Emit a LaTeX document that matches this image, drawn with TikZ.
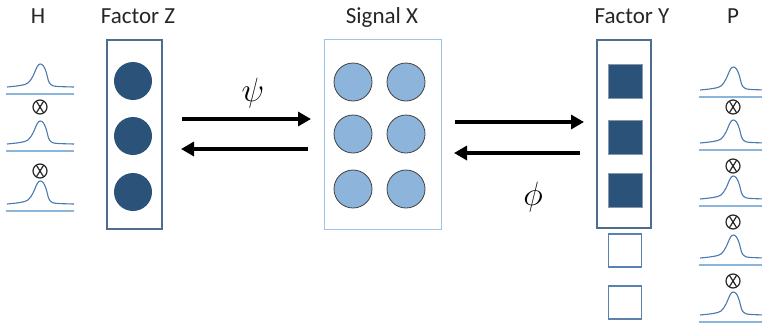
\documentclass[tikz,border=0pt]{standalone}
\usepackage{fontspec}
\setmainfont{Carlito}
\usetikzlibrary{arrows.meta}
\definecolor{dblue}{HTML}{2B5278}
\definecolor{boxedge}{HTML}{4F6D8F}
\definecolor{lblue}{HTML}{8DB5DB}
\definecolor{xedge}{HTML}{9DC3E6}
\definecolor{curvec}{HTML}{4A78B0}
\definecolor{basec}{HTML}{8AB6DE}
\definecolor{emptyedge}{HTML}{5A82AE}
\definecolor{txt}{HTML}{262626}
\tikzset{
  title/.style={anchor=base, font=\fontsize{23}{26}\selectfont, text=txt, inner sep=0},
  frame/.style={draw=boxedge, line width=1.3pt, inner sep=0},
  dcirc/.style={circle, fill=dblue, minimum size=38pt, inner sep=0},
  lcirc/.style={circle, fill=lblue, draw=black!75, line width=0.8pt, minimum size=38pt, inner sep=0},
  dsq/.style={fill=dblue, draw=boxedge!70, line width=0.6pt, minimum size=34pt, inner sep=0},
  esq/.style={draw=emptyedge, line width=1.2pt, minimum size=33pt, inner sep=0},
  bigarrow/.style={line width=4.3pt, -{Triangle[length=13pt,width=14pt]}},
  greek/.style={font=\fontsize{24.88}{28}\selectfont, scale=1.35, inner sep=0},
  otimes/.style={circle, draw=black!85, line width=1.2pt, minimum size=14pt, inner sep=0,
    path picture={\draw[black!85, line width=1.2pt]
      ([xshift=2.6pt]path picture bounding box.north west) -- ([xshift=-2.6pt]path picture bounding box.south east)
      ([xshift=-2.6pt]path picture bounding box.north east) -- ([xshift=2.6pt]path picture bounding box.south west);}},
  bump/.pic={
    \draw[curvec, line width=1.1pt] plot[smooth, tension=0.6] coordinates
      {(-33,0) (-20,-1.5) (-12,-4) (-7,-11) (-3,-20) (0,-23) (3.5,-21) (6.5,-14) (8.5,-6) (11.5,-2) (17,-0.6) (34,0)};
    \draw[basec, line width=1.3pt] (-34,7) -- (34,7);
  }
}
\begin{document}
\begin{tikzpicture}[x=1pt,y=-1pt]
\useasboundingbox (0,0) rectangle (762,327);

% titles
\node[title] (tH) at (38,23) {H};
\node[title] (tZ) at (138,23) {Factor Z};
\node[title] (tX) at (382,23) {Signal X};
\node[title] (tY) at (632,23) {Factor Y};
\node[title] (tP) at (733,23) {P};

% H column
\pic at (40,87) {bump};
\node[otimes] (h1) at (40,107) {};
\pic at (40,144) {bump};
\node[otimes] (h2) at (40,171) {};
\pic at (40,204) {bump};

% Factor Z
\node[frame, minimum width=55pt, minimum height=189pt] (Z) at (134.5,134.5) {};
\node[dcirc] (z1) at (133,81) {};
\node[dcirc] (z2) at (133,136) {};
\node[dcirc] (z3) at (133,192) {};

% Signal X
\node[draw=xedge, line width=1pt, minimum width=117pt, minimum height=190pt, inner sep=0] (X) at (382.5,134) {};
\node[lcirc] (x11) at (353,82) {};
\node[lcirc] (x12) at (406,82) {};
\node[lcirc] (x21) at (353,134) {};
\node[lcirc] (x22) at (406,134) {};
\node[lcirc] (x31) at (353,189) {};
\node[lcirc] (x32) at (406,189) {};

% Factor Y
\node[frame, minimum width=54pt, minimum height=188pt] (Y) at (624,134) {};
\node[dsq] (y1) at (625,81) {};
\node[dsq] (y2) at (625,137) {};
\node[dsq] (y3) at (625,190) {};
\node[esq] (y4) at (625,250.5) {};
\node[esq] (y5) at (625,302.5) {};

% P column
\pic at (733,90) {bump};
\node[otimes] (p1) at (733,107) {};
\pic at (733,143) {bump};
\node[otimes] (p2) at (733,166) {};
\pic at (733,199) {bump};
\node[otimes] (p3) at (733,222) {};
\pic at (733,258) {bump};
\node[otimes] (p4) at (733,281) {};
\pic at (733,315) {bump};

% arrows
\coordinate (a1s) at (182,119);
\coordinate (a1e) at (311,119);
\coordinate (a2s) at (308,149);
\coordinate (a2e) at (181,149);
\coordinate (b1s) at (455,122);
\coordinate (b1e) at (584,122);
\coordinate (b2s) at (580,153);
\coordinate (b2e) at (454,153);
\draw[bigarrow] (a1s) -- (a1e);
\draw[bigarrow] (a2s) -- (a2e);
\draw[bigarrow] (b1s) -- (b1e);
\draw[bigarrow] (b2s) -- (b2e);

\node[greek] (psi) at (253,93) {$\psi$};
\node[greek] (phi) at (533,197) {$\phi$};
\end{tikzpicture}
\end{document}
